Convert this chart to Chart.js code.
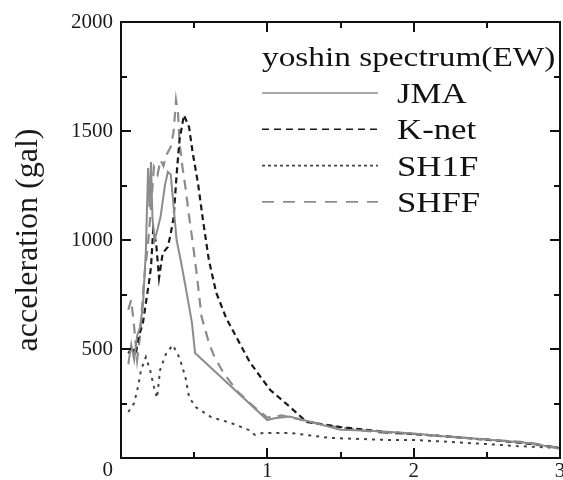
<!DOCTYPE html>
<html>
<head>
<meta charset="utf-8">
<script src="https://cdn.jsdelivr.net/npm/chart.js@4.4.1/dist/chart.umd.min.js"></script>
<style>
  html, body { margin: 0; padding: 0; background: #ffffff; }
  #wrap { width: 563px; height: 480px; }
</style>
</head>
<body>
<div id="wrap"><canvas id="c" width="563" height="480"></canvas></div>
<script>
// ---- data ----
const legendTitle = 'yoshin spectrum(EW)';
const seriesNames = ['JMA', 'K-net', 'SH1F', 'SHFF'];
const xTickLabels = [1, 2, 3];          // the shared origin "0" is drawn by the y axis
const yTickLabels = [0, 500, 1000, 1500, 2000];

const jmaX = [0.05,0.07,0.09,0.11,0.13,0.15,0.17,0.185,0.195,0.205,0.215,0.23,0.25,0.27,0.30,0.32,0.34,0.36,0.38,0.41,0.44,0.485,0.506,1.0,1.05,1.15,1.3,1.5,1.7,2.0,2.2,2.5,2.8,3.0];
const jmaY = [430,520,450,560,600,700,950,1330,1150,1358,1100,1000,1050,1105,1250,1312,1300,1150,1000,900,790,620,482,174,182,190,165,130,125,112,100,85,68,42];

const knetX = [0.05,0.08,0.1,0.12,0.135,0.15,0.17,0.19,0.205,0.22,0.24,0.26,0.285,0.32,0.34,0.36,0.38,0.40,0.43,0.465,0.49,0.526,0.56,0.6,0.65,0.72,0.8,0.88,0.95,1.02,1.155,1.27,1.5,1.82,2.0,2.3,2.6,2.8,3.0];
const knetY = [480,510,470,560,587,620,711,800,876,1046,986,826,940,968,1030,1105,1300,1459,1573,1518,1400,1261,1092,910,760,640,540,440,375,312,234,165,142,119,110,95,78,65,45];

const sh1fX = [0.05,0.09,0.116,0.137,0.17,0.2,0.225,0.246,0.267,0.31,0.355,0.40,0.44,0.465,0.51,0.615,0.75,0.875,0.915,0.97,1.155,1.43,1.82,2.0,2.5,2.7,3.0];
const sh1fY = [211,252,326,404,463,400,326,275,404,482,518,459,372,280,234,188,161,128,106,115,115,92,83,83,64,55,46];

const shffX = [0.05,0.07,0.09,0.11,0.13,0.157,0.185,0.205,0.225,0.25,0.27,0.29,0.31,0.34,0.36,0.376,0.39,0.40,0.42,0.44,0.465,0.49,0.52,0.55,0.6,0.635,0.70,0.80,0.9,1.0,1.1,1.2,1.4,1.6,1.8,2.0,2.3,2.6,2.8,3.0];
const shffY = [680,725,600,450,560,817,986,1150,1335,1300,1367,1340,1390,1427,1500,1642,1580,1445,1335,1243,1110,990,830,650,530,470,390,303,240,185,195,180,150,130,115,110,95,80,70,45];

const toPts = (xs, ys) => xs.map((x, i) => ({ x: x, y: ys[i] }));

const SERIF = "'Liberation Serif', 'Times New Roman', serif";

// frame with inward ticks on all four sides, positioned through the chart's scales
const framePlugin = {
  id: 'frame',
  afterDatasetsDraw(chart) {
    const { ctx, chartArea: a, scales } = chart;
    const xs = scales.x, ys = scales.y;
    ctx.save();
    ctx.strokeStyle = '#111';
    ctx.lineWidth = 2;
    ctx.strokeRect(a.left, a.top, a.right - a.left, a.bottom - a.top);
    ctx.beginPath();
    for (let v = 0; v <= 3.0001; v += 0.5) {
      const px = Math.round(xs.getPixelForValue(v));
      const len = (Math.abs(v - Math.round(v)) < 1e-6) ? 10 : 6;
      ctx.moveTo(px, a.bottom); ctx.lineTo(px, a.bottom - len);
      ctx.moveTo(px, a.top); ctx.lineTo(px, a.top + len);
    }
    for (let v = 0; v <= 2000.1; v += 250) {
      const py = Math.round(ys.getPixelForValue(v));
      const len = (v % 500 === 0) ? 10 : 6;
      ctx.moveTo(a.left, py); ctx.lineTo(a.left + len, py);
      ctx.moveTo(a.right, py); ctx.lineTo(a.right - len, py);
    }
    ctx.stroke();
    ctx.restore();
  }
};

// legend block in the upper right, styled from the datasets
const legendPlugin = {
  id: 'boxLegend',
  afterDraw(chart) {
    const { ctx } = chart;
    const o = chart.options.plugins.boxLegend;
    ctx.save();
    ctx.fillStyle = '#111';
    ctx.textAlign = 'left';
    ctx.textBaseline = 'alphabetic';
    ctx.save();
    ctx.translate(o.x, o.titleBaseline);
    ctx.scale(o.titleStretch, 1);
    ctx.font = o.titleSize + 'px ' + SERIF;
    ctx.fillText(o.title, 0, 0);
    ctx.restore();
    chart.data.datasets.forEach((ds, i) => {
      const base = o.firstBaseline + i * o.rowGap;
      const ly = base - 10;
      ctx.save();
      ctx.strokeStyle = ds.borderColor;
      ctx.lineWidth = 1.6;
      ctx.setLineDash(o.dashes[i]);
      ctx.beginPath();
      ctx.moveTo(o.x, ly); ctx.lineTo(o.x + o.lineLen, ly);
      ctx.stroke();
      ctx.restore();
      ctx.save();
      ctx.translate(o.textX, base);
      ctx.scale(o.labelStretch, 1);
      ctx.font = o.labelSize + 'px ' + SERIF;
      ctx.fillText(ds.label, 0, 0);
      ctx.restore();
    });
    ctx.restore();
  }
};

const chart = new Chart(document.getElementById('c'), {
  type: 'line',
  data: {
    datasets: [
      { label: seriesNames[0], data: toPts(jmaX, jmaY), borderColor: '#8c8c8c', borderWidth: 2, borderDash: [] },
      { label: seriesNames[1], data: toPts(knetX, knetY), borderColor: '#1a1a1a', borderWidth: 2.2, borderDash: [6, 4] },
      { label: seriesNames[2], data: toPts(sh1fX, sh1fY), borderColor: '#444444', borderWidth: 2, borderDash: [3, 5] },
      { label: seriesNames[3], data: toPts(shffX, shffY), borderColor: '#8c8c8c', borderWidth: 2.2, borderDash: [10, 7] }
    ]
  },
  options: {
    responsive: false,
    animation: false,
    events: [],
    elements: { point: { radius: 0 }, line: { tension: 0, fill: false } },
    layout: { padding: { top: 22, right: 3, left: 0, bottom: 0 } },
    scales: {
      x: {
        type: 'linear',
        min: 0, max: 3,
        grid: { display: false, drawTicks: false },
        border: { display: false },
        afterBuildTicks: (s) => { s.ticks = xTickLabels.map(v => ({ value: v })); },
        ticks: { padding: 1, color: '#1a1a1a', font: { family: SERIF, size: 21 }, maxRotation: 0, autoSkip: false,
                 callback: (v) => String(v) },
        afterFit: (s) => { s.height = 22; s.paddingLeft = 0; s.paddingRight = 0; }
      },
      y: {
        type: 'linear',
        min: 0, max: 2000,
        grid: { display: false, drawTicks: false },
        border: { display: false },
        afterBuildTicks: (s) => { s.ticks = yTickLabels.map(v => ({ value: v })); },
        ticks: { padding: 8, color: '#1a1a1a', font: { family: SERIF, size: 21 }, autoSkip: false,
                 callback: (v) => v === 0 ? ['', '0'] : String(v) },
        title: { display: true, text: 'acceleration (gal)', color: '#1a1a1a', font: { family: SERIF, size: 32 }, padding: { top: 9, bottom: 0 } },
        afterFit: (s) => { s.width = 121; s.paddingTop = 0; s.paddingBottom = 0; }
      }
    },
    plugins: {
      legend: { display: false },
      tooltip: { enabled: false },
      boxLegend: {
        title: legendTitle,
        x: 262, textX: 397, titleBaseline: 66, titleSize: 28, titleStretch: 1.19,
        firstBaseline: 103, rowGap: 36.3, labelSize: 29, labelStretch: 1.2, lineLen: 116,
        dashes: [[], [7, 5], [3, 3], [12, 9]]
      }
    }
  },
  plugins: [framePlugin, legendPlugin]
});
</script>
</body>
</html>
